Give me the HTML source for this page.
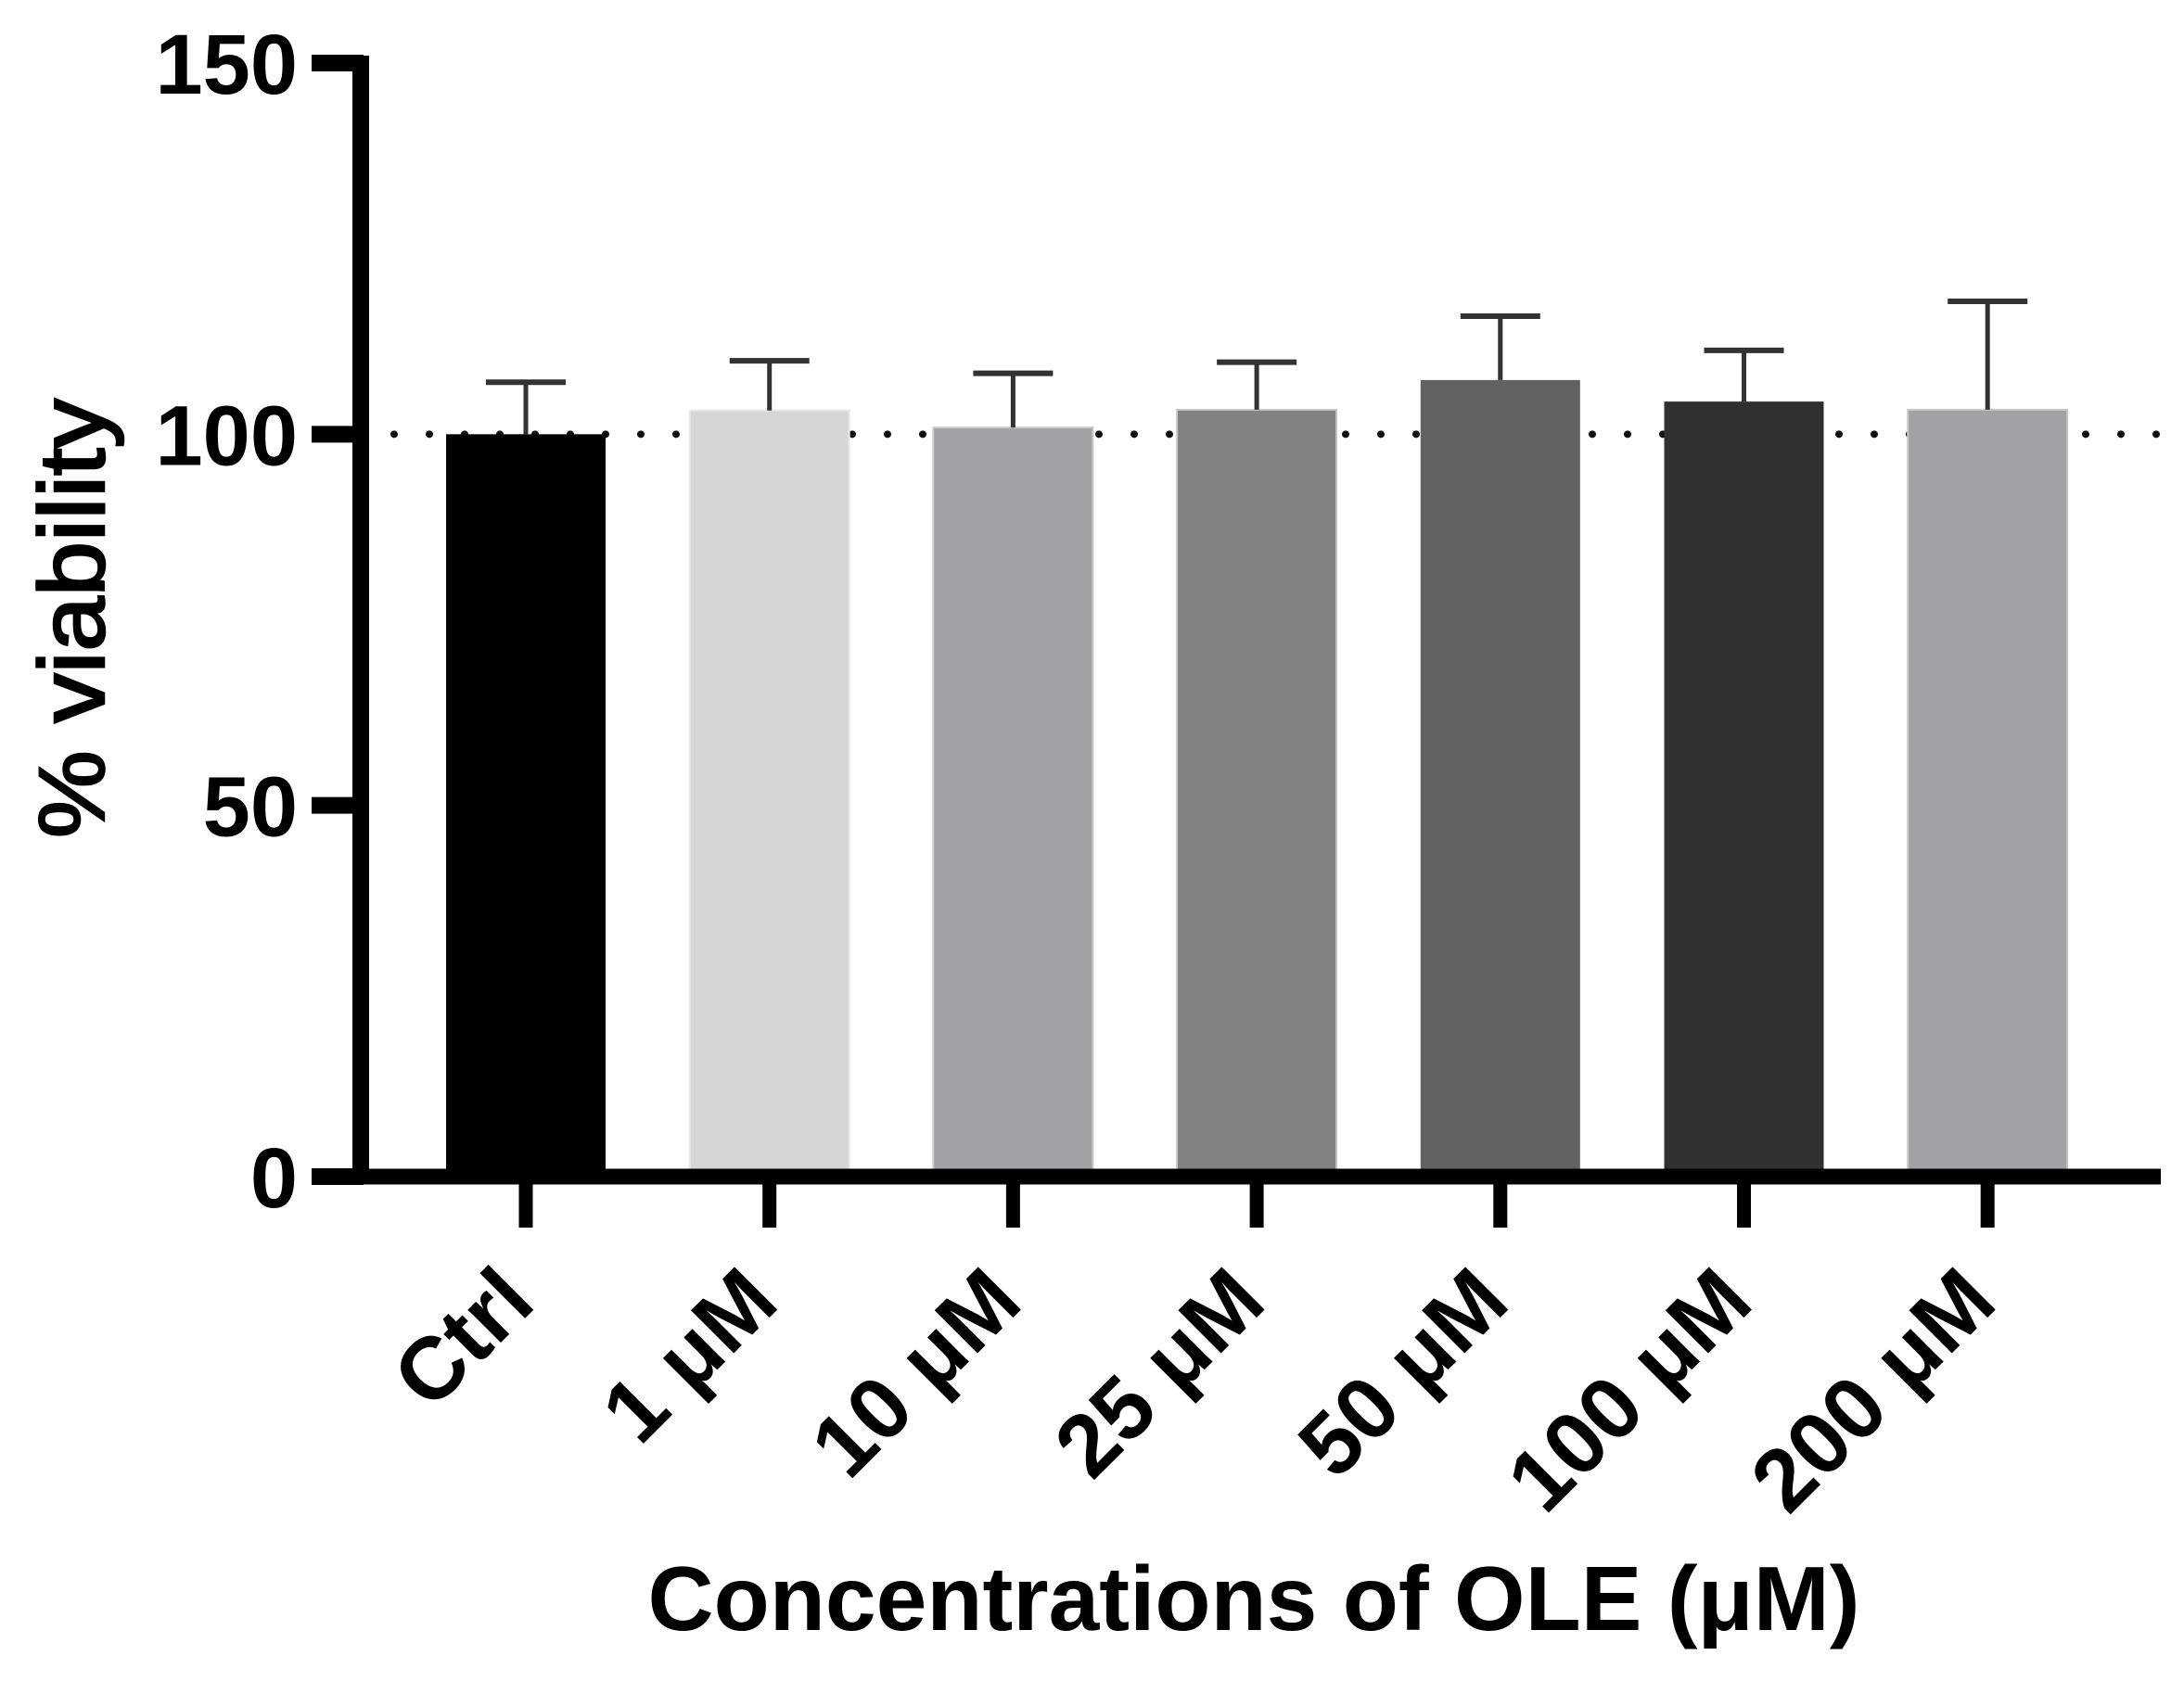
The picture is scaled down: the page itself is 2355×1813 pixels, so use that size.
<!DOCTYPE html>
<html><head><meta charset="utf-8"><style>
html,body{margin:0;padding:0;background:#fff;}
svg{display:block;font-family:"Liberation Sans",Arial,sans-serif;}
</style></head><body>
<svg id="chart" width="2355" height="1813" viewBox="0 0 2355 1813" xmlns="http://www.w3.org/2000/svg">
<g id="dots"></g>
<g id="bars"></g>
<g id="errs"></g>
<g id="axes"></g>
<g id="labels"></g>
<text transform="translate(112,667) rotate(-90)" text-anchor="middle" font-size="100" textLength="474" lengthAdjust="spacingAndGlyphs" fill="#000" stroke="#000" stroke-width="2.5">% viability</text>
<text x="1352" y="1758" text-anchor="middle" font-size="98" font-weight="bold" textLength="1307" lengthAdjust="spacingAndGlyphs" fill="#000">Concentrations of OLE (μM)</text>
</svg>
<script>
const categories = ["Ctrl","1 μM","10 μM","25 μM","50 μM","100 μM","200 μM"];
const means = [100, 103.2, 100.9, 103.3, 107.3, 104.4, 103.3];
const errTops = [107.0, 109.9, 108.2, 109.7, 115.9, 111.3, 117.9];
const colors = ["#000000","#d6d6d6","#a2a1a5","#828282","#626262","#303030","#a2a1a5"];
const yTicks = [0, 50, 100, 150];
const refValue = 100;

const NS = "http://www.w3.org/2000/svg";
const y0 = 1269, ppu = (1269 - 68) / 150;
function yScale(v){ return y0 - v * ppu; }
function xScale(i){ return 567 + i * 262.7; }
const barW = 172, capW = 86;
function mk(tag, attrs, parent){
  const e = document.createElementNS(NS, tag);
  for (const k in attrs) e.setAttribute(k, attrs[k]);
  parent.appendChild(e);
  return e;
}
const gD = document.getElementById('dots'), gB = document.getElementById('bars'),
      gE = document.getElementById('errs'), gA = document.getElementById('axes'),
      gL = document.getElementById('labels');

const ref = mk('line', {x1:425, x2:2330, y1:yScale(refValue), y2:yScale(refValue), stroke:'#111', 'stroke-width':8, 'stroke-linecap':'round', 'stroke-dasharray':'0 38'}, gD);



categories.forEach((c, i) => {
  const cx = xScale(i);
  const top = yScale(means[i]);
  const light = i === 1 || i === 2 || i === 6 || i === 3;
  const r = mk('rect', {x:cx - barW/2, y:top, width:barW, height:y0 - top, fill:colors[i], stroke: light ? '#c8c8c8' : colors[i], 'stroke-width': light ? 2 : 0}, gB);
  if (i === 1) r.setAttribute('stroke', '#e8e8e8');
  
  
  const et = yScale(errTops[i]);
  const v = mk('line', {x1:cx, x2:cx, y1:top, y2:et, stroke:'#333', 'stroke-width':5}, gE);
  
  
  const cap = mk('line', {x1:cx - capW/2, x2:cx + capW/2, y1:et, y2:et, stroke:'#333', 'stroke-width':6}, gE);
  
  
  const t = mk('line', {x1:cx, x2:cx, y1:y0, y2:1324, stroke:'#000', 'stroke-width':15}, gA);
  
  
  const lx = cx + 13, ly = 1408;
  const tx = mk('text', {x:0, y:0, transform:'translate(' + lx + ',' + ly + ') rotate(-45)', 'text-anchor':'end', 'font-size':95, 'font-weight':'bold', fill:'#000'}, gL);
  tx.textContent = c;
  
  
});

const ya = mk('line', {x1:389, x2:389, y1:60, y2:1277, stroke:'#000', 'stroke-width':18}, gA);


const xa = mk('line', {x1:337, x2:2330, y1:y0, y2:y0, stroke:'#000', 'stroke-width':17}, gA);



yTicks.forEach((v, i) => {
  const yy = yScale(v);
  const t = mk('line', {x1:336, x2:392, y1:yy, y2:yy, stroke:'#000', 'stroke-width':18}, gA);
  
  
  const tx = mk('text', {x:321, y:yy + 33, 'text-anchor':'end', 'font-size':92, 'font-weight':'bold', fill:'#000'}, gL);
  tx.textContent = String(v);
  
  
});
</script>
</body></html>
